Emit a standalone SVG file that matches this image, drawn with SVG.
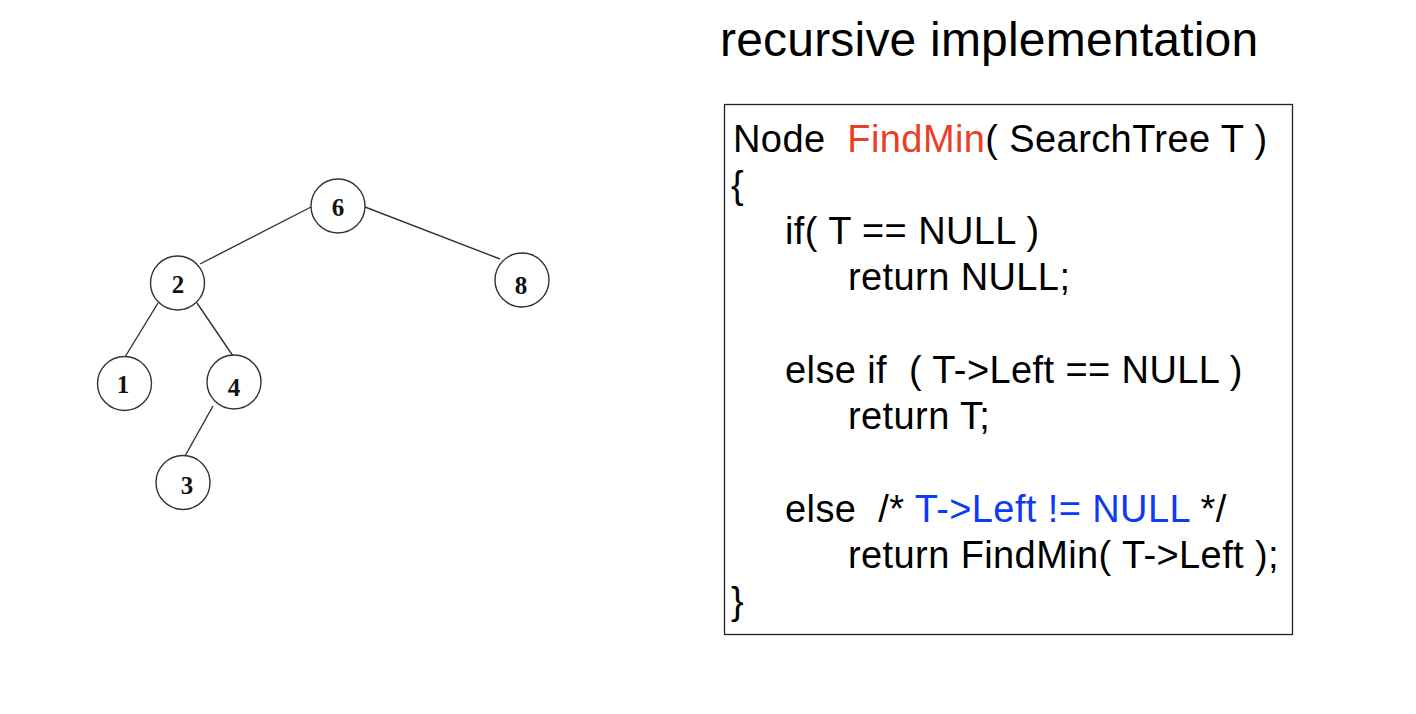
<svg xmlns="http://www.w3.org/2000/svg" width="1416" height="714" viewBox="0 0 1416 714">
<style>
.node circle{fill:#fff;stroke:#333;stroke-width:1.4}
.node text{font-family:"Liberation Serif","Times New Roman",serif;font-weight:bold;font-size:25px;fill:#111;text-anchor:middle}
.edges line{stroke:#333;stroke-width:1.4}
.code{font-family:"Liberation Sans",Arial,Helvetica,sans-serif;font-size:38px;fill:#000;white-space:pre;letter-spacing:0.4px}
.red{fill:#EA3F26}
.blue{fill:#0A3CF5}
</style>
<rect width="1416" height="714" fill="#fff"/>
<g id="connectors" class="edges">
<line x1="311" y1="207" x2="200" y2="264"/>
<line x1="365" y1="207" x2="500" y2="259"/>
<line x1="158" y1="303" x2="125" y2="357"/>
<line x1="197" y1="303" x2="233" y2="356"/>
<line x1="213" y1="406" x2="185" y2="456"/>
</g>
<g id="node6" class="node"><circle cx="338" cy="206" r="27"/><text x="338" y="216">6</text></g>
<g id="node2" class="node"><circle cx="177.5" cy="283" r="27"/><text x="178" y="293">2</text></g>
<g id="node8" class="node"><circle cx="522" cy="280" r="27"/><text x="521" y="294">8</text></g>
<g id="node1" class="node"><circle cx="124.5" cy="383.5" r="27"/><text x="123" y="393">1</text></g>
<g id="node4" class="node"><circle cx="234" cy="382" r="27"/><text x="234" y="396">4</text></g>
<g id="node3" class="node"><circle cx="183" cy="482.5" r="27"/><text x="187" y="494">3</text></g>
<g id="title"><text x="720" y="56" class="code" style="font-size:48px;letter-spacing:0.2px">recursive implementation</text></g>
<g id="codebox">
<rect x="724.5" y="104.5" width="568" height="530" fill="#fff" stroke="#222" stroke-width="1.3"/>
<text class="code" x="733" y="152" xml:space="preserve">Node  <tspan class="red">FindMin</tspan>( SearchTree T )</text>
<text class="code" x="731" y="198">{</text>
<text class="code" x="785" y="244">if( T == NULL )</text>
<text class="code" x="848" y="290">return NULL;</text>
<text class="code" x="785" y="383" xml:space="preserve">else if  ( T-&gt;Left == NULL )</text>
<text class="code" x="848" y="429">return T;</text>
<text class="code" x="785" y="522" xml:space="preserve">else  /* <tspan class="blue">T-&gt;Left != NULL</tspan> */</text>
<text class="code" x="848" y="568">return FindMin( T-&gt;Left );</text>
<text class="code" x="731" y="614">}</text>
</g>
</svg>
